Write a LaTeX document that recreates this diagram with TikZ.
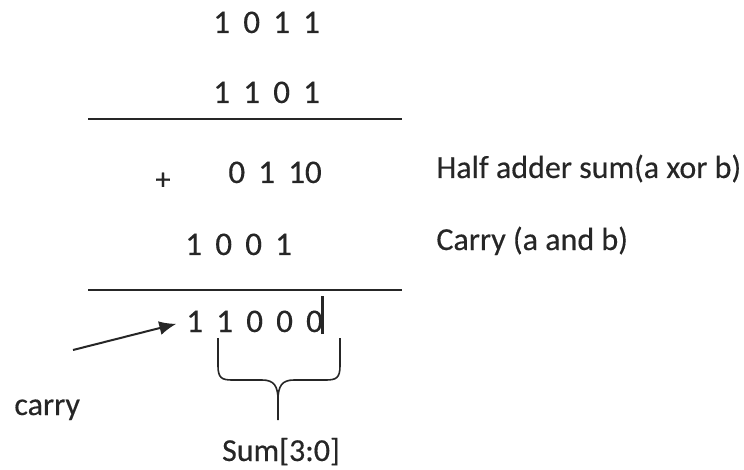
\documentclass[tikz,border=0pt]{standalone}
\usepackage{fontspec}
\setmainfont{Carlito}[FakeBold=0.35]
\usepackage{tikz}
\usetikzlibrary{arrows.meta,positioning,calc}
\definecolor{inkc}{HTML}{262626}
\newcommand{\bitrow}[1]{{\spaceskip=6.6pt\relax #1}}

\begin{document}
\begin{tikzpicture}[x=0.5pt,y=-0.5pt,
    txt/.style={inner sep=0pt,text=inkc,font=\fontsize{16}{19}\selectfont},
    digits/.style={txt,anchor=base west,font=\fontsize{16.5}{19}\selectfont},
    rule/.style={draw=inkc,line width=1pt}]
    \useasboundingbox (0,0) rectangle (744,470);
    \foreach \nm/\px/\py/\bits in {r1/213/33/{1 0 1 1}, r2/213/103/{1 1 0 1}, r3/228/183/{0 1 10}, r4/185/255/{1 0 0 1}, r5/186/332/{1 1 0 0 0}} {
      \node[digits] (\nm) at (\px,\py) {\bitrow{\bits}};
    }
    \draw[rule] (88,119) -- (402,119);
    \draw[rule] (88,290) -- (402,290);
    \node[txt,font=\fontsize{15}{17}\selectfont] (plus) at (163,181) {+};
    \node[txt,anchor=base west] (xorlab) at (436,178) {Half adder sum(a xor b)};
    \node[txt,anchor=base west] (andlab) at (436,250) {Carry (a and b)};
    \draw[inkc,line width=1.3pt] ([xshift=-0.5pt]r5.base east) ++(0,2) -- ++(0,-38);
    \coordinate (ctail) at (73,350);
    \draw[rule,-{Latex[length=8.5pt,width=7pt]},shorten >=5pt] (ctail) -- (r5.west);
    \node[txt,anchor=base west] (carrylab) at (14,415) {carry};
    \coordinate (btip) at (278,420);
    \draw[draw=inkc,line width=0.8pt] (218,338) -- (218,366) .. controls (218,378) and (222,380) .. (232,380) -- (262,380) .. controls (274,380) and (278,386) .. (278,400) -- (btip);
    \draw[draw=inkc,line width=0.8pt] (340,338) -- (340,366) .. controls (340,378) and (336,380) .. (326,380) -- (294,380) .. controls (282,380) and (278,386) .. (278,400);
    \node[txt,anchor=base] (sumlab) at ($(btip)+(3,41)$) {Sum[3:0]};
  \end{tikzpicture}
\end{document}
